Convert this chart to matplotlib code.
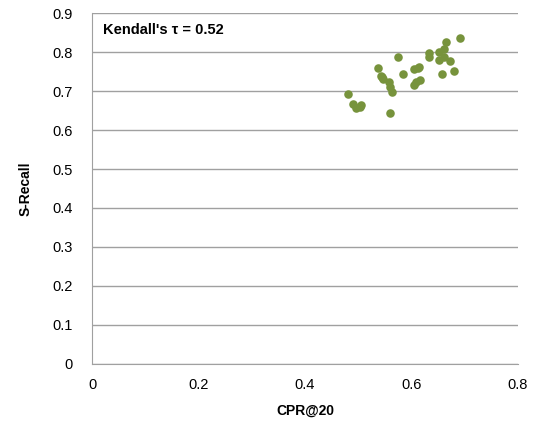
import matplotlib.pyplot as plt

cpr20 = [0.481, 0.490, 0.496, 0.503, 0.506, 0.537, 0.543, 0.546, 0.544, 0.557,
         0.560, 0.564, 0.560, 0.574, 0.584, 0.605, 0.612, 0.615, 0.605, 0.609,
         0.617, 0.634, 0.634, 0.652, 0.652, 0.657, 0.662, 0.665, 0.662, 0.672,
         0.680, 0.691]
s_recall = [0.692, 0.667, 0.656, 0.660, 0.664, 0.758, 0.739, 0.730, 0.735, 0.723,
            0.710, 0.698, 0.645, 0.788, 0.743, 0.757, 0.760, 0.761, 0.715, 0.724,
            0.728, 0.798, 0.787, 0.801, 0.780, 0.745, 0.807, 0.825, 0.787, 0.777,
            0.751, 0.835]

plt.rcParams['font.family'] = ['Liberation Sans', 'DejaVu Sans']

fig = plt.figure(figsize=(5.36, 4.25), dpi=100)
ax = fig.add_axes([0.172, 0.144, 0.794, 0.825])

ax.scatter(cpr20, s_recall, s=38, color='#77933C', zorder=3, linewidths=0)

ax.set_xlim(0, 0.8)
ax.set_ylim(0, 0.9)
ax.set_xticks([0, 0.2, 0.4, 0.6, 0.8])
ax.set_xticklabels(['0', '0.2', '0.4', '0.6', '0.8'])
ax.set_yticks([i / 10 for i in range(10)])
ax.set_yticklabels(['0'] + ['0.%d' % i for i in range(1, 10)])
ax.tick_params(length=0, labelsize=10.5)
ax.tick_params(axis='y', pad=14)
ax.tick_params(axis='x', pad=10)
ax.grid(axis='y', color='#a0a0a0', linewidth=1)
ax.set_axisbelow(True)
for s in ['top', 'right']:
    ax.spines[s].set_visible(False)
for s in ['left', 'bottom']:
    ax.spines[s].set_color('#a0a0a0')

ax.set_xlabel('CPR@20', fontweight='bold', fontsize=10, labelpad=9)
ax.set_ylabel('S-Recall', fontweight='bold', fontsize=10, labelpad=14)
ax.text(0.02, 0.858, "Kendall's τ = 0.52", fontweight='bold', fontsize=10.5,
        va='center', ha='left', transform=ax.transData)

fig.savefig('out.png')
plt.close()
